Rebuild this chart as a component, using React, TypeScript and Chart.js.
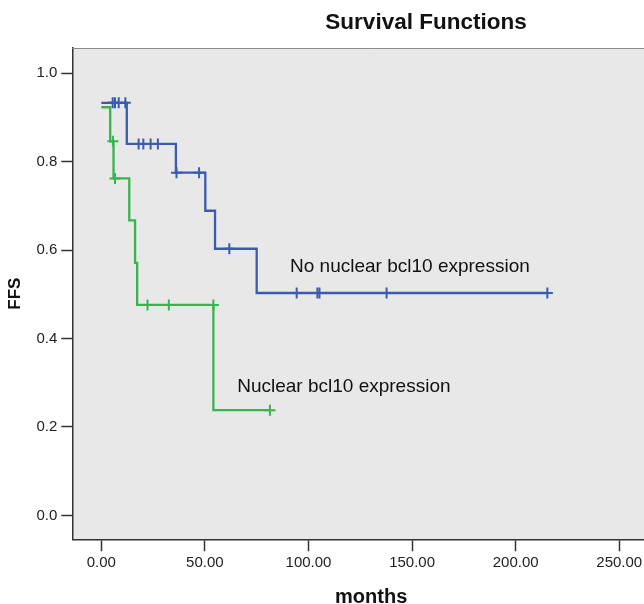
import React, { useEffect, useRef } from "react";
import { Chart, registerables } from "chart.js";

Chart.register(...registerables);

const FONT = "'Liberation Sans', Arial, Helvetica, sans-serif";

const chartTitle = "Survival Functions";
const xAxisTitle = "months";
const yAxisTitle = "FFS";
const groupLabels = ["No nuclear bcl10 expression", "Nuclear bcl10 expression"];

// Kaplan-Meier step points: group "No nuclear bcl10 expression"
const noNuclearTimes = [0.0, 12.3, 36.0, 50.2, 54.9, 75.0, 215.3];
const noNuclearSurvival = [0.933, 0.84, 0.775, 0.689, 0.603, 0.503, 0.503];
const noNuclearCensorTimes = [5.5, 6.6, 8.4, 11.6, 18.0, 20.3, 23.8, 27.3, 36.3, 47.2, 61.8, 94.3, 104.3, 105.3, 137.7, 215.3];
const noNuclearCensorSurvival = [0.933, 0.933, 0.933, 0.933, 0.84, 0.84, 0.84, 0.84, 0.775, 0.775, 0.603, 0.503, 0.503, 0.503, 0.503, 0.503];

// Kaplan-Meier step points: group "Nuclear bcl10 expression"
const nuclearTimes = [0.0, 4.3, 5.9, 13.5, 16.3, 17.3, 54.1, 81.4];
const nuclearSurvival = [0.923, 0.846, 0.762, 0.667, 0.571, 0.476, 0.238, 0.238];
const nuclearCensorTimes = [5.6, 6.6, 22.3, 32.6, 54.1, 81.4];
const nuclearCensorSurvival = [0.846, 0.762, 0.476, 0.476, 0.476, 0.238];

// x/y ticks
const xTickValues = [0, 50, 100, 150, 200, 250];
const yTickValues = [0, 0.2, 0.4, 0.6, 0.8, 1.0];

// label anchors (data coordinates) for the in-plot group labels
const labelTimes = [91.1, 65.6];
const labelSurvival = [0.551, 0.28];

const BLUE = "#3b5bb0";
const GREEN = "#38b44e";

const toPoints = (xs: number[], ys: number[]) => xs.map((x, i) => ({ x, y: ys[i] }));

const overlayPlugin = {
  id: "overlay",
  beforeDraw(chart: any) {
    const { ctx, chartArea } = chart;
    ctx.save();
    ctx.fillStyle = "#e8e8e8";
    ctx.fillRect(chartArea.left, chartArea.top, chartArea.right - chartArea.left, chartArea.bottom - chartArea.top);
    ctx.restore();
  },
  afterDraw(chart: any) {
    const { ctx, chartArea, scales } = chart;
    ctx.save();
    // top frame line
    ctx.strokeStyle = "#8a8a8a";
    ctx.lineWidth = 1;
    ctx.beginPath();
    ctx.moveTo(chartArea.left, chartArea.top + 0.5);
    ctx.lineTo(chartArea.right, chartArea.top + 0.5);
    ctx.stroke();
    // chart title
    ctx.fillStyle = "#111";
    ctx.font = `bold 22.5px ${FONT}`;
    ctx.textAlign = "center";
    ctx.textBaseline = "middle";
    ctx.fillText(chartTitle, 426, 23);
    // group labels
    ctx.font = `19px ${FONT}`;
    ctx.textAlign = "left";
    ctx.textBaseline = "alphabetic";
    ctx.fillStyle = "#111";
    groupLabels.forEach((t, i) => {
      const px = scales.x.getPixelForValue(labelTimes[i]);
      const py = scales.y.getPixelForValue(labelSurvival[i]);
      ctx.fillText(t, px, py);
    });
    ctx.restore();
  },
};

export default function App() {
  const ref = useRef<HTMLCanvasElement | null>(null);

  useEffect(() => {
    if (!ref.current) return;
    const chart = new Chart(ref.current, {
      type: "line",
      data: {
        datasets: [
          {
            label: groupLabels[1],
            data: toPoints(nuclearTimes, nuclearSurvival),
            borderColor: GREEN,
            borderWidth: 2.3,
            stepped: "before",
            pointRadius: 0,
            fill: false,
          },
          {
            label: groupLabels[1] + " censored",
            data: toPoints(nuclearCensorTimes, nuclearCensorSurvival),
            borderColor: GREEN,
            showLine: false,
            pointStyle: "cross",
            pointRadius: 5.5,
            pointBorderWidth: 2,
            pointBorderColor: GREEN,
          },
          {
            label: groupLabels[0],
            data: toPoints(noNuclearTimes, noNuclearSurvival),
            borderColor: BLUE,
            borderWidth: 2.3,
            stepped: "before",
            pointRadius: 0,
            fill: false,
          },
          {
            label: groupLabels[0] + " censored",
            data: toPoints(noNuclearCensorTimes, noNuclearCensorSurvival),
            borderColor: BLUE,
            showLine: false,
            pointStyle: "cross",
            pointRadius: 5.5,
            pointBorderWidth: 2,
            pointBorderColor: BLUE,
          },
        ] as any,
      },
      options: {
        animation: false,
        responsive: false,
        events: [],
        layout: { autoPadding: false, padding: { top: 48, left: 0, right: 0, bottom: 0 } },
        plugins: {
          legend: { display: false },
          tooltip: { enabled: false },
          title: { display: false },
        },
        scales: {
          x: {
            type: "linear",
            min: -14,
            max: 274.5,
            afterBuildTicks: (s: any) => {
              s.ticks = xTickValues.map((v) => ({ value: v }));
            },
            afterFit: (s: any) => {
              s.height = 604 - 539.3;
              s.paddingLeft = 0;
              s.paddingRight = 0;
            },
            ticks: {
              stepSize: 50,
              includeBounds: false,
              autoSkip: false,
              maxRotation: 0,
              padding: 3,
              color: "#222",
              font: { family: FONT, size: 15 },
              callback: (v: any) => Number(v).toFixed(2),
            },
            grid: {
              drawOnChartArea: false,
              drawTicks: true,
              tickLength: 12,
              tickColor: "#333",
              tickWidth: 1.5,
            },
            border: { display: true, color: "#333", width: 1.5 },
            title: {
              display: true,
              text: xAxisTitle,
              color: "#111",
              font: { family: FONT, size: 20, weight: "bold" },
              padding: { top: 0, bottom: -5 },
            },
          },
          y: {
            type: "linear",
            min: -0.054,
            max: 1.057,
            afterBuildTicks: (s: any) => {
              s.ticks = yTickValues.map((v) => ({ value: v }));
            },
            afterFit: (s: any) => {
              s.width = 72.3;
              s.paddingTop = 0;
              s.paddingBottom = 0;
            },
            ticks: {
              stepSize: 0.2,
              includeBounds: false,
              padding: 4,
              color: "#222",
              font: { family: FONT, size: 15 },
              callback: (v: any) => Number(v).toFixed(1),
            },
            grid: {
              drawOnChartArea: false,
              drawTicks: true,
              tickLength: 11,
              tickColor: "#333",
              tickWidth: 1.5,
            },
            border: { display: true, color: "#333", width: 1.5 },
            title: {
              display: true,
              text: yAxisTitle,
              color: "#111",
              font: { family: FONT, size: 17, weight: "bold" },
              padding: { top: 5, bottom: 0 },
            },
          },
        },
      } as any,
      plugins: [overlayPlugin],
    });
    return () => chart.destroy();
  }, []);

  return (
    <div style={{ position: "absolute", left: 0, top: 0, width: 644, height: 604, overflow: "hidden", background: "#fff" }}>
      <canvas ref={ref} width={670} height={604} style={{ display: "block", width: 670, height: 604 }} />
    </div>
  );
}
